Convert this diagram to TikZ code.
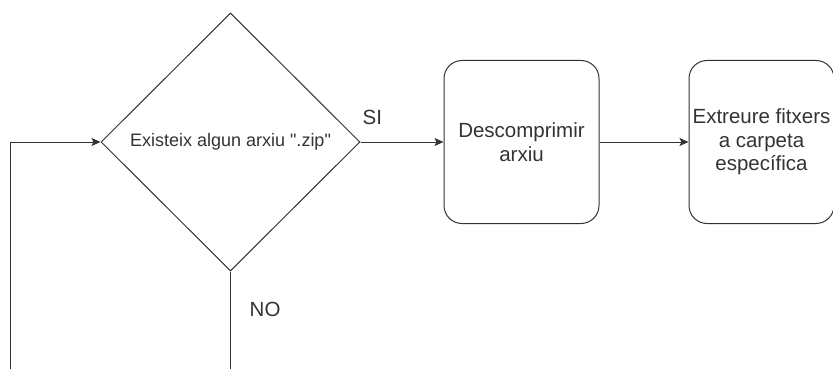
\documentclass[tikz,border=0pt]{standalone}
\usepackage{fontspec}
\setmainfont{Liberation Sans}[Ligatures=TeXOff]
\usetikzlibrary{positioning,shapes.geometric,arrows.meta}
\definecolor{ink}{HTML}{333333}

\begin{document}
\begin{tikzpicture}[
  x=1pt, y=1pt,
  decision/.style={draw=ink, line width=1pt, diamond, inner sep=0pt, minimum width=259pt, minimum height=258pt, text=ink, font=\fontsize{18}{21}\selectfont},
  stepbox/.style={draw=ink, line width=1pt, rounded corners=18pt, minimum width=155pt, minimum height=163pt, inner sep=0pt, align=center, text=ink, font=\fontsize{20.5}{23.5}\selectfont},
  answer/.style={inner sep=0pt, text=ink, font=\fontsize{20.5}{23.5}\selectfont},
  flow/.style={draw=ink, line width=1pt, -{Stealth[length=9pt,width=8pt,inset=2pt]}},
  plain/.style={draw=ink, line width=1pt}
]
\useasboundingbox (0,0) rectangle (833,-369);
\clip (0,0) rectangle (833,-369);

% Decision and the two steps on the SI branch
\node[decision] (haszip) at (230.5,-142) {Existeix algun arxiu ".zip"};
\node[stepbox, right=83pt of haszip] (unzip) {Descomprimir\\arxiu};
\node[stepbox, minimum width=145pt, right=89pt of unzip] (extract) {Extreure fitxers\\a carpeta\\específica};

% Branch labels
\node[answer, above right=17pt and 2pt of haszip.east] (yes) {SI};
\node[answer, below right=30pt and 19pt of haszip.south] (no) {NO};

% Loose ends at the bottom edge
\coordinate (loopend) at (10,-369);
\coordinate (noend) at (haszip.south |- loopend);

% Connectors
\draw[flow] (loopend) |- (haszip.west);
\draw[plain] (haszip.south) -- (noend);
\draw[flow] (haszip.east) -- (unzip.west);
\draw[flow] (unzip) -- (extract);

\end{tikzpicture}
\end{document}
